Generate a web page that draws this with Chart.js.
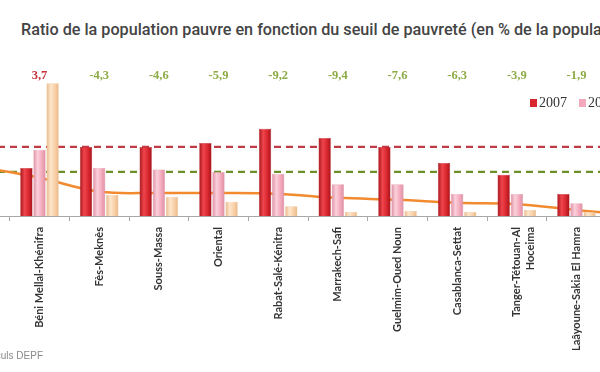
<!DOCTYPE html>
<html>
<head>
<meta charset="utf-8">
<script src="https://cdn.jsdelivr.net/npm/chart.js@4.4.1/dist/chart.umd.min.js"></script>
<style>
  html, body { margin: 0; padding: 0; background: #fff; width: 600px; height: 372px; overflow: hidden; position: relative; }
  #title { position: absolute; left: 21px; top: 20px; font-family: Roboto, sans-serif; font-size: 16.2px; font-weight: 500; color: #444; white-space: nowrap; line-height: 20px; }
  #wrap { position: absolute; left: -50px; top: 0; width: 716px; height: 372px; }
  #legend { position: absolute; left: 530px; top: 95px; font-family: "Liberation Serif", serif; font-size: 14px; color: #333; white-space: nowrap; }
  #legend span.sw { display: inline-block; width: 7px; height: 8px; margin-right: 2px; vertical-align: 0px; }
  #legend span.item { margin-right: 12px; }
  #source { position: absolute; right: 557px; top: 350px; font-family: "Liberation Sans", Arial, sans-serif; font-size: 10px; color: #8a8a8a; white-space: nowrap; }
</style>
</head>
<body>
<div id="title">Ratio de la population pauvre en fonction du seuil de pauvreté (en % de la population)</div>
<div id="wrap"><canvas id="c"></canvas></div>
<div id="legend"></div>
<div id="source">Source : calculs DEPF</div>
<script>
// ---- Data (units = % of population) ----
const categories = [
  "Drâa-Tafilalet",
  "Béni Mellal-Khénifra",
  "Fès-Meknès",
  "Souss-Massa",
  "Oriental",
  "Rabat-Salé-Kénitra",
  "Marrakech-Safi",
  "Guelmim-Oued Noun",
  "Casablanca-Settat",
  ["Tanger-Tétouan-Al", "Hoceima"],
  "Laâyoune-Sakia El Hamra",
  "Dakhla-Oued Ed-Dahab"
];
const series2007 = [20.0, 9.8, 14.1, 14.1, 14.9, 17.8, 15.9, 14.1, 10.8, 8.4, 4.5, 3.0];
const series2014 = [14.0, 13.5, 9.8, 9.5, 9.0, 8.6, 6.5, 6.5, 4.5, 4.5, 2.6, 1.5];
const seriesThird = [10.6, 27.1, 4.3, 3.9, 2.9, 2.0, 0.8, 1.0, 0.8, 1.2, 0.8, 0.4];
const trendLine = [10.0, 7.8, 5.0, 4.7, 4.7, 4.5, 3.7, 3.3, 2.7, 2.4, 1.2, 0.1];
const variations = [null, 3.7, -4.3, -4.6, -5.9, -9.2, -9.4, -7.6, -6.3, -3.9, -1.9, null];
const reference2007 = 14.1;   // red dashed line
const reference2014 = 9.0;    // green dashed line
const labelLevel = 28.6;      // height at which the variation labels are written
const legendNames = ["2007", "2014", "2019"];

// ---- Styles ----
const RED = '#d8262e', PINK = '#f3a9bb', TAN = '#f8cfa6';
const CAT_PCT = 0.66, BAR_PCT = 0.94;

function barFill(slot, edge, light, base) {
  return (ctx) => {
    const chart = ctx.chart;
    const xs = chart.scales && chart.scales.x;
    if (!xs || ctx.type !== 'data' || !isFinite(xs.width)) return base;
    const catW = xs.width / categories.length;
    const slotW = catW * CAT_PCT / 3;
    const w = slotW * BAR_PCT;
    const cx = xs.getPixelForValue(ctx.dataIndex) + (slot - 1) * slotW;
    const g = chart.ctx.createLinearGradient(cx - w / 2, 0, cx + w / 2, 0);
    g.addColorStop(0, edge);
    g.addColorStop(0.35, light);
    g.addColorStop(0.7, base);
    g.addColorStop(1, edge);
    return g;
  };
}

const refLines = {
  id: 'refLines',
  beforeDatasetsDraw(chart) {
    const { ctx, chartArea, scales } = chart;
    const draw = (v, color) => {
      const y = scales.y.getPixelForValue(v);
      ctx.save();
      ctx.strokeStyle = color;
      ctx.lineWidth = 2.2;
      ctx.setLineDash([7, 5]);
      ctx.beginPath();
      ctx.moveTo(chartArea.left, y);
      ctx.lineTo(chartArea.right, y);
      ctx.stroke();
      ctx.restore();
    };
    draw(reference2007, '#c23a44');
    draw(reference2014, '#6e8f25');
  }
};

const variationLabels = {
  id: 'variationLabels',
  afterDatasetsDraw(chart) {
    const { ctx, scales } = chart;
    ctx.save();
    ctx.font = 'bold 12.5px "Liberation Serif", serif';
    ctx.textAlign = 'center';
    ctx.textBaseline = 'middle';
    const y = scales.y.getPixelForValue(labelLevel);
    variations.forEach((v, i) => {
      if (v === null) return;
      ctx.fillStyle = v > 0 ? '#c7303a' : '#8dab45';
      ctx.fillText(v.toFixed(1).replace('.', ','), scales.x.getPixelForValue(i), y);
    });
    ctx.restore();
  }
};

new Chart(document.getElementById('c'), {
  data: {
    labels: categories,
    datasets: [
      { type: 'line', label: 'tendance', data: trendLine, borderColor: '#f28a30', borderWidth: 2.5,
        pointRadius: 0, tension: 0.4, order: 2, fill: false },
      { type: 'bar', label: legendNames[0], data: series2007, order: 1,
        backgroundColor: barFill(0, '#a3141b', '#f0454d', RED), borderColor: '#b81d25', borderWidth: 0.5,
        categoryPercentage: CAT_PCT, barPercentage: BAR_PCT },
      { type: 'bar', label: legendNames[1], data: series2014, order: 1,
        backgroundColor: barFill(1, '#dd8ea2', '#fbd0dc', PINK), borderColor: '#de98aa', borderWidth: 0.5,
        categoryPercentage: CAT_PCT, barPercentage: BAR_PCT },
      { type: 'bar', label: legendNames[2], data: seriesThird, order: 1,
        backgroundColor: barFill(2, '#e8b888', '#fde6cc', TAN), borderColor: '#e9bf95', borderWidth: 0.5,
        categoryPercentage: CAT_PCT, barPercentage: BAR_PCT }
    ]
  },
  options: {
    responsive: true,
    maintainAspectRatio: false,
    animation: false,
    layout: { padding: { top: 20, left: 0, right: 0, bottom: 0 } },
    plugins: { legend: { display: false }, tooltip: { enabled: false }, title: { display: false } },
    scales: {
      y: { display: false, min: 0, max: 40 },
      x: {
        afterFit(scale) { scale.height = 156; },
        border: { display: true, color: '#a8a8a8', width: 1 },
        grid: { display: true, drawOnChartArea: false, drawTicks: true, tickLength: 5, color: '#a8a8a8', offset: true },
        ticks: {
          autoSkip: false, maxRotation: 90, minRotation: 90, padding: 6,
          color: '#333', font: { family: 'Lato, "Open Sans", sans-serif', size: 11, weight: 'bold' }
        }
      }
    }
  },
  plugins: [refLines, variationLabels]
});

// HTML legend (cut by the right edge like the reference)
const legendColors = [RED, PINK, TAN];
document.getElementById('legend').innerHTML = legendNames.map((n, i) =>
  `<span class="item"><span class="sw" style="background:${legendColors[i]}"></span>${n}</span>`).join('');
</script>
</body>
</html>
